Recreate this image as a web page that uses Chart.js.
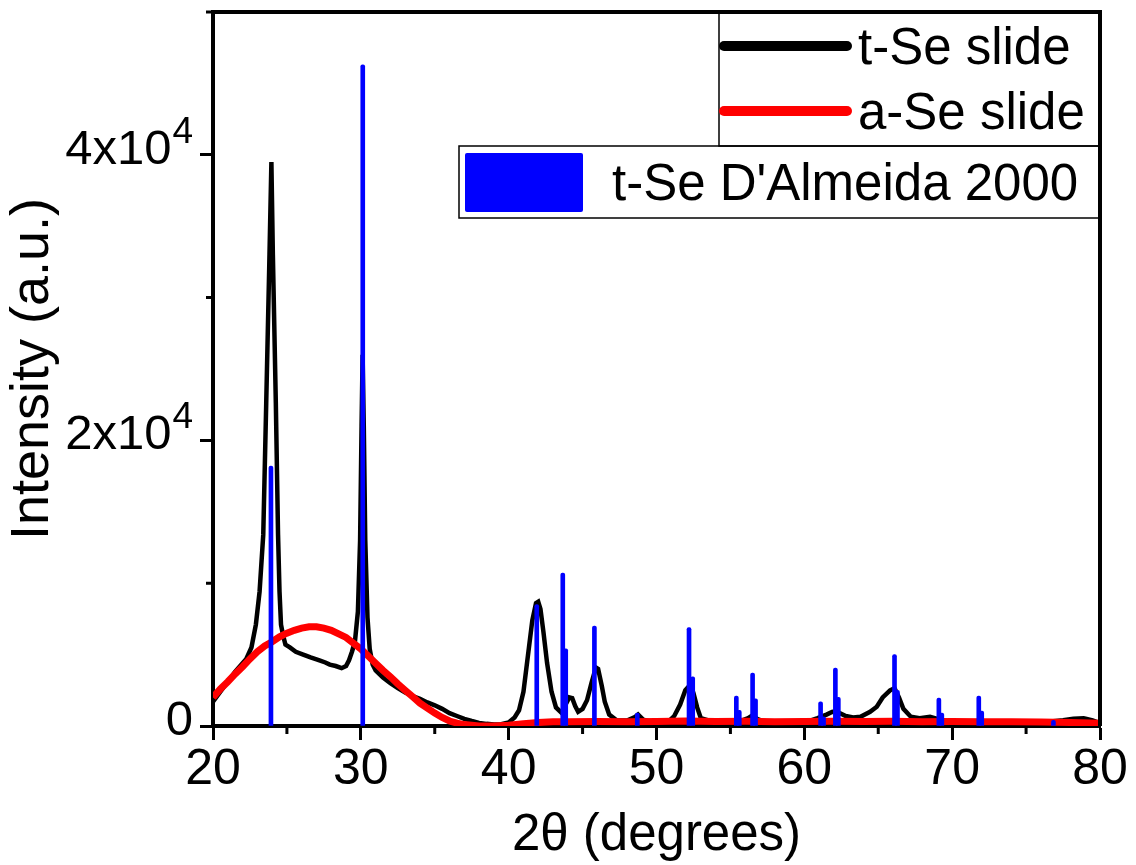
<!DOCTYPE html>
<html>
<head>
<meta charset="utf-8">
<script src="https://cdn.jsdelivr.net/npm/chart.js@4.4.1/dist/chart.umd.min.js"></script>
<style>
  html, body { margin: 0; padding: 0; background: #fff; }
  #wrap { width: 1136px; height: 865px; }
</style>
</head>
<body>
<div id="wrap"><canvas id="xrd" width="1136" height="865"></canvas></div>
<script>
// t-Se slide (black)
const tSeAngle = [20.0, 20.5, 21.0, 21.5, 22.0, 22.25, 22.6, 22.9, 23.15, 23.4, 23.6, 23.8, 23.95, 24.05, 24.25, 24.4, 24.5, 24.6, 24.75, 24.9,
  25.2, 25.6, 26.1, 26.6, 27.2, 27.6, 27.9, 28.3, 28.7, 29.0, 29.2, 29.4, 29.6, 29.8, 29.95, 30.05, 30.12, 30.2, 30.3, 30.45,
  30.6, 30.8, 31.0, 31.5, 32.0, 32.5, 33.0, 33.5, 34.0, 34.5, 35.0, 35.5, 36.0, 36.5, 37.0, 37.5, 38.0, 38.5, 39.0, 39.5,
  40.0, 40.4, 40.7, 41.0, 41.3, 41.6, 41.85, 42.0, 42.15, 42.35, 42.6, 42.9, 43.2, 43.6, 43.9, 44.1, 44.3, 44.5, 44.7, 45.0,
  45.3, 45.6, 45.9, 46.05, 46.3, 46.5, 46.8, 47.3, 48.0, 48.5, 48.75, 49.1, 49.6, 50.2, 50.8, 51.2, 51.6, 51.95, 52.3, 52.5,
  52.75, 53.0, 53.8, 54.5, 55.2, 55.8, 56.2, 56.5, 56.8, 57.2, 58.0, 59.0, 60.2, 60.9, 61.5, 61.9, 62.3, 62.8, 63.3, 63.8,
  64.45, 64.9, 65.3, 65.8, 66.1, 66.4, 66.7, 67.2, 67.8, 68.5, 69.0, 69.4, 70.3, 71.5, 72.4, 73.5, 74.5, 75.75, 76.5, 77.5,
  78.2, 78.9, 79.5, 80.0];
const tSeIntensity = [1700, 2400, 3100, 3800, 4400, 4700, 5500, 7100, 9400, 13400, 22600, 32000, 39500, 33000, 22600, 13400, 9400, 7100, 6300, 5700,
  5500, 5200, 5000, 4800, 4600, 4450, 4300, 4200, 4050, 4200, 4600, 5200, 5900, 8000, 13000, 21000, 26000, 21000, 13000, 7600,
  5400, 4300, 3900, 3400, 3000, 2650, 2350, 2100, 1900, 1650, 1450, 1200, 900, 700, 500, 350, 220, 150, 100, 120,
  250, 600, 1100, 2400, 4900, 7400, 8600, 8700, 8200, 6600, 4400, 2400, 1300, 900, 1600, 2000, 1950, 1400, 1000, 1200,
  1800, 3000, 4100, 4000, 2800, 1700, 800, 400, 380, 600, 800, 450, 300, 200, 300, 700, 1500, 2500, 2900, 2300,
  1300, 550, 300, 280, 300, 400, 550, 750, 500, 350, 300, 280, 300, 550, 800, 1000, 950, 700, 600, 650,
  1000, 1350, 2000, 2500, 2650, 2000, 1200, 650, 550, 650, 500, 400, 200, 200, 200, 150, 200, 200, 300, 400,
  500, 550, 400, 200];

// a-Se slide (red)
const aSeAngle = [20.0, 20.5, 21.0, 21.5, 22.0, 22.5, 23.0, 23.5, 24.0, 24.5, 25.0, 25.5, 26.0, 26.5, 27.0, 27.5, 28.0, 28.5, 29.0, 29.5,
  30.0, 30.5, 31.0, 31.5, 32.0, 32.5, 33.0, 33.5, 34.0, 34.5, 35.0, 35.5, 36.0, 36.5, 37.0, 37.5, 38.0, 39.0, 40.0, 41.0,
  42.0, 43.0, 44.0, 46.0, 48.0, 50.0, 52.0, 54.0, 56.0, 58.0, 60.0, 62.0, 64.0, 66.0, 68.0, 70.0, 72.0, 74.0, 76.0, 78.0, 80.0];
const aSeIntensity = [2000, 2600, 3100, 3650, 4150, 4700, 5200, 5600, 5900, 6250, 6500, 6700, 6850, 6950, 6950, 6850, 6700, 6450, 6200, 5800,
  5400, 4900, 4400, 3900, 3450, 2950, 2500, 2050, 1600, 1250, 900, 600, 350, 200, 100, 50, 0, 0, 50, 150,
  250, 300, 300, 320, 300, 320, 350, 320, 330, 300, 320, 330, 320, 330, 300, 320, 300, 300, 280, 250, 200];

// t-Se D'Almeida 2000 reference sticks (blue)
const refAngle = [23.92, 30.13, 41.9, 43.66, 43.86, 45.8, 48.7, 52.2, 52.45, 55.4, 55.6, 56.5, 56.7, 61.1, 61.3, 62.1, 62.3, 66.1, 66.3, 69.1,
  69.3, 71.8, 72.0, 76.85];
const refIntensity = [18200, 46300, 8500, 10700, 5400, 7000, 900, 6900, 3450, 2100, 1100, 3700, 1900, 1700, 650, 4050, 2000, 5000, 2500, 1950,
  900, 2100, 1050, 400];

const seriesLabels = ['t-Se slide', 'a-Se slide', "t-Se D'Almeida 2000"];
const xTickValues = [20, 30, 40, 50, 60, 70, 80];
const xMinorTicks = [25, 35, 45, 55, 65, 75];
const yTickValues = [0, 20000, 40000];
const yTickLabels = [['0', ''], ['2x10', '4'], ['4x10', '4']];
const yMinorTicks = [10000, 30000, 50000];

const FONT = "'Liberation Sans', Arial, sans-serif";
Chart.defaults.font.family = FONT;
Chart.defaults.color = '#000';

function pairs(xs, ys) {
  return xs.map((x, i) => ({ x: x, y: ys[i] }));
}

const decorations = {
  id: 'decorations',
  afterDraw(chart) {
    const ctx = chart.ctx;
    const a = chart.chartArea;
    const xs = chart.scales.x, ys = chart.scales.y;
    ctx.save();
    ctx.strokeStyle = '#000';
    ctx.fillStyle = '#000';

    // top and right frame
    ctx.lineWidth = 4;
    ctx.beginPath();
    ctx.moveTo(a.left - 2, a.top);
    ctx.lineTo(a.right, a.top);
    ctx.lineTo(a.right, a.bottom);
    ctx.stroke();

    // minor ticks
    ctx.lineWidth = 3;
    ctx.beginPath();
    xMinorTicks.forEach(v => {
      const px = xs.getPixelForValue(v);
      ctx.moveTo(px, a.bottom);
      ctx.lineTo(px, a.bottom + 8);
    });
    yMinorTicks.forEach(v => {
      const py = ys.getPixelForValue(v);
      ctx.moveTo(a.left, py);
      ctx.lineTo(a.left - 7, py);
    });
    ctx.stroke();

    // y tick labels with superscript
    const right = a.left - 20;
    yTickValues.forEach((v, i) => {
      const py = ys.getPixelForValue(v);
      const [main, sup] = yTickLabels[i];
      ctx.font = '37px ' + FONT;
      const supW = sup ? ctx.measureText(sup).width : 0;
      ctx.textAlign = 'left';
      ctx.textBaseline = 'alphabetic';
      if (sup) ctx.fillText(sup, right - supW, py - 12);
      ctx.font = '49px ' + FONT;
      ctx.textAlign = 'right';
      ctx.fillText(main, right - supW - (sup ? 1 : 0), py + 9);
    });

    // legend boxes
    ctx.lineWidth = 1.5;
    ctx.strokeRect(a.right - 381, a.top, 381, 134);
    ctx.strokeRect(a.right - 641, a.top + 134, 641, 72);

    ctx.lineCap = 'round';
    ctx.lineWidth = 10;
    ctx.strokeStyle = '#000';
    ctx.beginPath();
    ctx.moveTo(a.right - 376, a.top + 34);
    ctx.lineTo(a.right - 253, a.top + 34);
    ctx.stroke();
    ctx.strokeStyle = '#ff0000';
    ctx.beginPath();
    ctx.moveTo(a.right - 376, a.top + 99);
    ctx.lineTo(a.right - 253, a.top + 99);
    ctx.stroke();

    ctx.fillStyle = '#0000ff';
    ctx.beginPath();
    ctx.roundRect(a.right - 635, a.top + 141, 118, 59, 2);
    ctx.fill();

    ctx.fillStyle = '#000';
    ctx.font = '51px ' + FONT;
    ctx.textAlign = 'left';
    ctx.textBaseline = 'alphabetic';
    ctx.fillText(seriesLabels[0], a.right - 242, a.top + 52);
    ctx.fillText(seriesLabels[1], a.right - 242, a.top + 117);
    ctx.fillText(seriesLabels[2], a.right - 488, a.top + 188);
    ctx.restore();
  }
};

new Chart(document.getElementById('xrd'), {
  type: 'line',
  data: {
    datasets: [
      {
        type: 'bar',
        label: seriesLabels[2],
        data: pairs(refAngle, refIntensity),
        backgroundColor: '#0000ff',
        barThickness: 4,
        borderRadius: 2,
        borderSkipped: 'start',
        order: 0
      },
      {
        label: seriesLabels[1],
        data: pairs(aSeAngle, aSeIntensity),
        borderColor: '#ff0000',
        borderWidth: 7,
        pointRadius: 0,
        fill: false,
        order: 1
      },
      {
        label: seriesLabels[0],
        data: pairs(tSeAngle, tSeIntensity),
        borderColor: '#000000',
        borderWidth: 4.5,
        pointRadius: 0,
        fill: false,
        order: 2
      }
    ]
  },
  options: {
    responsive: false,
    animation: false,
    devicePixelRatio: 1,
    layout: { padding: { left: 0, right: 36, top: 12, bottom: 0 } },
    plugins: { legend: { display: false }, tooltip: { enabled: false } },
    scales: {
      x: {
        type: 'linear',
        min: 20,
        max: 80,
        offset: false,
        afterBuildTicks: s => { s.ticks = xTickValues.map(v => ({ value: v })); },
        ticks: { font: { size: 50, lineHeight: 1 }, padding: 5, maxRotation: 0, autoSkip: false },
        grid: { drawOnChartArea: false, offset: false, tickLength: 14, tickWidth: 3, tickColor: '#000' },
        border: { width: 4, color: '#000' },
        title: { display: true, text: '2θ (degrees)', font: { size: 51, lineHeight: 1 }, padding: { top: 10.5, bottom: 3.5 } }
      },
      y: {
        type: 'linear',
        min: 0,
        max: 50000,
        afterBuildTicks: s => { s.ticks = yTickValues.map(v => ({ value: v })); },
        ticks: { display: false },
        grid: { drawOnChartArea: false, tickLength: 13, tickWidth: 3, tickColor: '#000' },
        border: { width: 4, color: '#000' },
        title: { display: true, text: 'Intensity (a.u.)', font: { size: 54, lineHeight: 1 }, padding: { top: 6, bottom: 140 } }
      }
    }
  },
  plugins: [decorations]
});
</script>
</body>
</html>
